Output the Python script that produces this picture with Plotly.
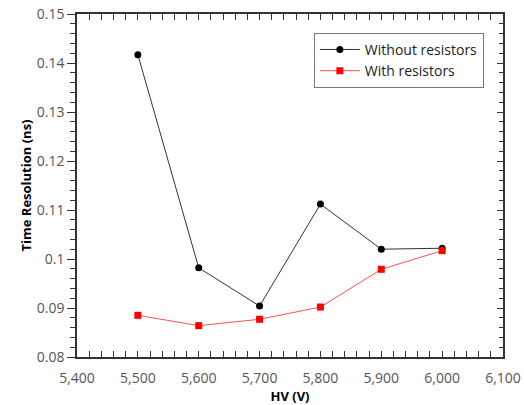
import plotly.graph_objects as go

hv = [5500, 5600, 5700, 5800, 5900, 6000]
without_res = [0.1417, 0.0982, 0.0904, 0.1112, 0.1020, 0.1022]
with_res = [0.0885, 0.0864, 0.0877, 0.0902, 0.0979, 0.1017]

x_ticks = [5400, 5500, 5600, 5700, 5800, 5900, 6000, 6100]
x_labels = ["5,400", "5,500", "5,600", "5,700", "5,800", "5,900", "6,000", "6,100"]
y_ticks = [0.08, 0.09, 0.10, 0.11, 0.12, 0.13, 0.14, 0.15]
y_labels = ["0.08", "0.09", "0.1", "0.11", "0.12", "0.13", "0.14", "0.15"]

fig = go.Figure()
fig.add_trace(go.Scatter(x=hv, y=without_res, mode="lines+markers", name="Without resistors",
                         line=dict(color="#333333", width=1),
                         marker=dict(symbol="circle", size=7, color="black")))
fig.add_trace(go.Scatter(x=hv, y=with_res, mode="lines+markers", name="With resistors",
                         line=dict(color="#ff5050", width=1),
                         marker=dict(symbol="square", size=7, color="#ff0000")))
# invisible trace for right axis
fig.add_trace(go.Scatter(x=[x_ticks[0]], y=[y_ticks[0]], yaxis="y2", mode="markers",
                         marker=dict(opacity=0), showlegend=False, hoverinfo="skip"))

tickfont = dict(family="Open Sans, Noto Sans, sans-serif", size=14, color="#555555")
fig.update_layout(
    width=524, height=405,
    margin=dict(l=77, r=21, t=14, b=48, autoexpand=False),
    paper_bgcolor="white", plot_bgcolor="white",
    font=dict(family="Open Sans, Noto Sans, sans-serif", color="#222222"),
    xaxis=dict(range=[5400, 6100], tickvals=x_ticks, ticktext=x_labels, automargin=False,
               ticks="inside", ticklen=6, tickwidth=1, tickcolor="#333333",
               showline=True, linecolor="#333333", linewidth=1.5, mirror="allticks",
               showgrid=False, zeroline=False, tickfont=tickfont, ticklabelstandoff=7,
               minor=dict(dtick=20, ticks="inside", ticklen=4, tickcolor="#333333", showgrid=False),
               title=dict(text="<b>HV (V)</b>", font=dict(size=13, color="black"), standoff=4)),
    yaxis=dict(range=[0.08, 0.15], tickvals=y_ticks, ticktext=y_labels, automargin=False,
               ticks="outside", ticklen=8, tickwidth=1, tickcolor="#333333",
               showline=True, linecolor="#333333", linewidth=1.5,
               showgrid=False, zeroline=False, tickfont=tickfont,
               minor=dict(dtick=0.002, ticks="outside", ticklen=5, tickcolor="#333333", showgrid=False),
               title=dict(text="<b>Time Resolution (ns)</b>", font=dict(size=13, color="black"), standoff=2)),
    yaxis2=dict(range=[0.08, 0.15], overlaying="y", side="right", tickvals=y_ticks, automargin=False,
                showticklabels=False, ticks="inside", ticklen=6, tickcolor="#333333",
                showline=True, linecolor="#333333", linewidth=1.5, showgrid=False, zeroline=False,
                minor=dict(dtick=0.002, ticks="inside", ticklen=4, tickcolor="#333333", showgrid=False)),
    legend=dict(x=0.556, y=0.945, xanchor="left", yanchor="top",
                bordercolor="#777777", borderwidth=1, bgcolor="white",
                font=dict(size=14, color="#222222"), tracegroupgap=0,
                itemwidth=40),
    showlegend=True,
)
fig.write_html("out.html")
